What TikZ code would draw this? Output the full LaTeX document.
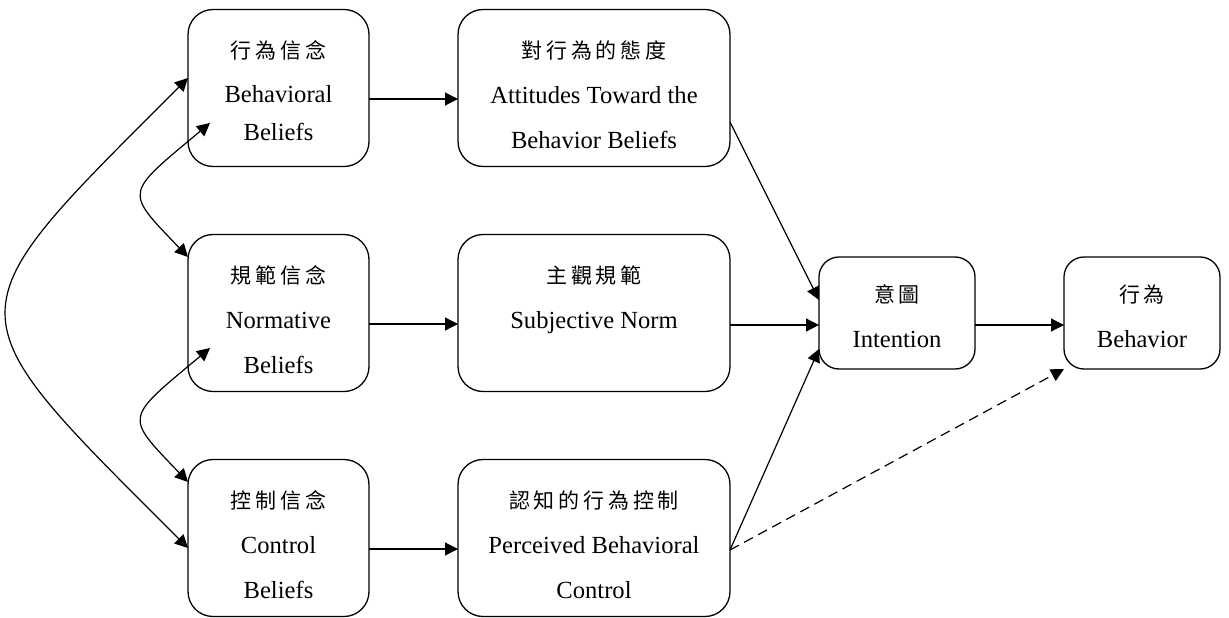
\documentclass[tikz,border=0pt]{standalone}
\usepackage{fontspec}
\setmainfont{Liberation Serif}
\newfontfamily\cjk[LetterSpace=18]{Noto Sans CJK TC}
\newcommand{\zhtext}[1]{{\cjk\fontsize{21}{45}\selectfont #1}}
\usetikzlibrary{positioning,arrows.meta}

\begin{document}
\begin{tikzpicture}[node distance={68pt and 89pt},
    main/.style = {draw, rounded corners=25pt, line width=1.3pt, outer sep=0pt, inner sep=0pt, align=center,
        minimum width=181pt, minimum height=157pt, text height=120pt, text depth=0pt,
        font=\fontsize{24.6}{45}\selectfont},
    wide/.style = {main, minimum width=272pt},
    small/.style = {main, rounded corners=20pt, minimum width=156pt, minimum height=112pt, text height=68pt},
    link/.style = {line width=1.2pt, -{Triangle[length=13pt,width=13pt]}},
    twoway/.style = {link, {Triangle[length=13pt,width=13pt]}-{Triangle[length=13pt,width=13pt]}}]
    \useasboundingbox (0,0) rectangle (1229pt,-618pt);

    \node[main, text height=104pt, font=\fontsize{24.6}{38}\selectfont](bb) at (278.5pt,-88pt){\zhtext{行為信念}\\[5.5pt] Behavioral\\ Beliefs};
    \node[main](nb)[below=of bb]{\zhtext{規範信念}\\ Normative\\ Beliefs};
    \node[main](cb)[below=of nb]{\zhtext{控制信念}\\ Control\\ Beliefs};
    \node[wide](att)[right=of bb]{\zhtext{對行為的態度}\\ Attitudes Toward the\\ Behavior Beliefs};
    \node[wide, text height=48pt, text depth=17pt](sn)[right=of nb]{\zhtext{主觀規範}\\ Subjective Norm};
    \node[wide](pbc)[right=of cb]{\zhtext{認知的行為控制}\\ Perceived Behavioral\\ Control};
    \node[small](int)[right=of sn]{\zhtext{意圖}\\ Intention};
    \node[small](beh)[right=of int]{\zhtext{行為}\\ Behavior};

    \draw[link] ([yshift=-11pt]bb.east) -- ([yshift=-11pt]att.west);
    \draw[link] ([yshift=-11pt]nb.east) -- ([yshift=-11pt]sn.west);
    \draw[link] ([yshift=-11pt]cb.east) -- ([yshift=-11pt]pbc.west);
    \draw[link] ([yshift=-34pt]att.east) -- ([yshift=13pt]int.west);
    \draw[link] ([yshift=-12pt]sn.east) -- ([yshift=-12pt]int.west);
    \draw[link] ([yshift=-12pt]pbc.east) -- ([yshift=-36pt]int.west);
    \draw[link] ([yshift=-12pt]int.east) -- ([yshift=-12pt]beh.west);
    \draw[link, dash pattern=on 10pt off 6pt] ([yshift=-12pt]pbc.east) -- (beh.south west);

    \draw[twoway] ([yshift=10pt]bb.west) .. controls +(-241pt,-241pt) and +(-241pt,241pt) .. ([yshift=-10pt]cb.west);
    \draw[twoway] ([xshift=22pt,yshift=43.5pt]bb.south west) .. controls +(-86pt,-72pt) and +(-64pt,67pt) .. ([yshift=-22.5pt]nb.north west);
    \draw[twoway] ([xshift=22pt,yshift=43.5pt]nb.south west) .. controls +(-86pt,-72pt) and +(-64pt,67pt) .. ([yshift=-22.5pt]cb.north west);
\end{tikzpicture}
\end{document}
